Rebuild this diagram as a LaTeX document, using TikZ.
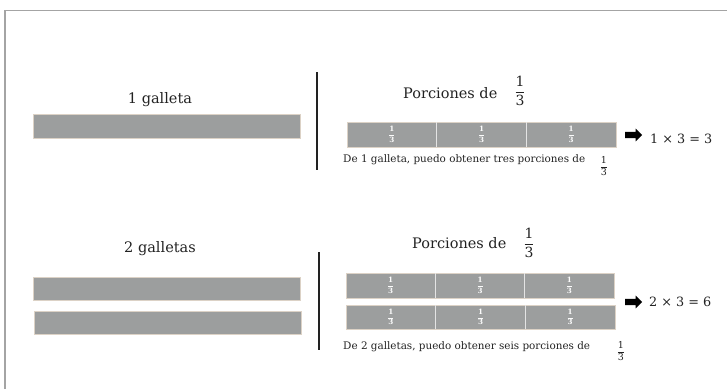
\documentclass[tikz,border=0pt]{standalone}
\usepackage{amsmath}
\usepackage{fontspec}
\setmainfont{DejaVu Serif}
\usetikzlibrary{shapes.arrows,calc}
\definecolor{bargray}{HTML}{9C9E9E}
\definecolor{bartan}{HTML}{DCD2C6}
\definecolor{framegray}{HTML}{A4A4A4}
\definecolor{cellline}{HTML}{E4E4E4}
\definecolor{ink}{HTML}{222222}
\newcommand\third{$\dfrac{\text{1}}{\text{3}}$}
\newcommand\thirdsbar[5]{% name, x, y, width, height
  \node[bar, anchor=north west, minimum width=#4pt, minimum height=#5pt] (#1) at (#2,#3) {};
  \foreach \k in {1,2}
    \draw[cellsep] ($(#1.north west)!\k/3!(#1.north east)$) -- ($(#1.south west)!\k/3!(#1.south east)$);
  \foreach \k/\n in {1/a,3/b,5/c}
    \node[cellfrac] (#1\n) at ($(#1.west)!\k/6!(#1.east)$) {\third};
}
\begin{document}
\begin{tikzpicture}[x=1pt,y=-1pt,
  bar/.style={fill=bargray, draw=bartan, line width=0.6pt, inner sep=0pt, outer sep=0pt},
  cellsep/.style={draw=cellline, line width=0.8pt},
  cellfrac/.style={text=white!96!bargray, inner sep=0pt, font=\bfseries\fontsize{7.2}{8}\selectfont},
  bigtxt/.style={text=ink, inner sep=0pt, anchor=base, font=\fontsize{14.5}{18}\selectfont},
  porc/.style={text=ink, inner sep=0pt, anchor=base west, font=\fontsize{14.5}{18}\selectfont},
  bigfrac/.style={text=ink, inner sep=0pt, font=\fontsize{14}{17}\selectfont},
  smalltxt/.style={text=ink, inner sep=0pt, anchor=base west, font=\fontsize{10.4}{13}\selectfont},
  smallfrac/.style={text=ink, inner sep=0pt, font=\fontsize{9.5}{11}\selectfont},
  eqtxt/.style={text=ink, inner sep=0pt, anchor=base west, font=\fontsize{12.8}{15}\selectfont},
  fatarrow/.style={single arrow, fill=black, draw=none, inner sep=3pt,
    minimum height=17pt, single arrow head extend=3.2pt, single arrow head indent=0pt},
  divider/.style={draw=ink, line width=1.5pt}
]
\useasboundingbox (0,0) rectangle (727,389);
% frame
\draw[framegray, line width=1.6pt] (5,389) -- (5,10.5) -- (727,10.5);

% ---- top row
\node[bigtxt] (g1) at (160,103) {1 galleta};
\node[bar, anchor=north west, minimum width=267pt, minimum height=24pt] (b1) at (33,114) {};

\coordinate (v1a) at (317,72);
\coordinate (v1b) at (317,170);
\draw[divider] (v1a) -- (v1b);

\node[porc] (p1) at (403,98) {Porciones de};
\node[bigfrac] (p1f) at (520,91) {\third};
\thirdsbar{r1}{347}{122}{269}{25}
\node[fatarrow] (a1) at (632,135) {};
\node[eqtxt] (e1) at (650,143) {1 × 3 = 3};
\node[smalltxt] (s1) at (343,162) {De 1 galleta, puedo obtener tres porciones de};
\node[smallfrac] (s1f) at (604,166) {\third};

% ---- bottom row
\node[bigtxt] (g2) at (160,252) {2 galletas};
\node[bar, anchor=north west, minimum width=267pt, minimum height=23pt] (b2a) at (33,277) {};
\node[bar, anchor=north west, minimum width=267pt, minimum height=23pt] (b2b) at (34,311) {};

\coordinate (v2a) at (319,252);
\coordinate (v2b) at (319,350);
\draw[divider] (v2a) -- (v2b);

\node[porc] (p2) at (412,248) {Porciones de};
\node[bigfrac] (p2f) at (529,243) {\third};
\thirdsbar{r2a}{346}{273}{268}{25}
\thirdsbar{r2b}{346}{305}{269}{24}
\node[fatarrow] (a2) at (632,302) {};
\node[eqtxt] (e2) at (649,306) {2 × 3 = 6};
\node[smalltxt] (s2) at (343,349) {De 2 galletas, puedo obtener seis porciones de};
\node[smallfrac] (s2f) at (621,351) {\third};
\end{tikzpicture}
\end{document}
